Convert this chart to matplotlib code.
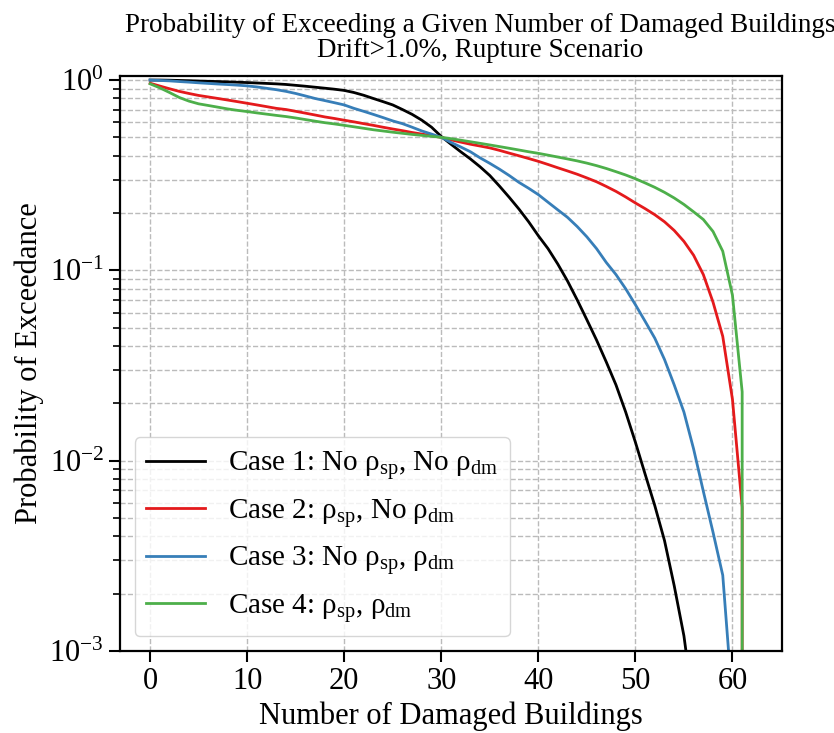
import numpy as np
import matplotlib
matplotlib.use("Agg")
import matplotlib.pyplot as plt

plt.rcParams['font.family'] = ['Liberation Serif', 'DejaVu Serif']
plt.rcParams['mathtext.fontset'] = 'custom'
plt.rcParams['mathtext.rm'] = 'Liberation Serif'
plt.rcParams['mathtext.it'] = 'Liberation Serif:italic'
plt.rcParams['mathtext.bf'] = 'Liberation Serif:bold'

# number of damaged buildings
n_buildings = list(range(63))

# probability of exceedance (0 = no longer possible)
case1 = [1.0, 1.0, 0.998, 0.995, 0.992, 0.988, 0.985, 0.982, 0.978, 0.974,
         0.97, 0.965, 0.96, 0.955, 0.948, 0.938, 0.928, 0.917, 0.906, 0.895,
         0.882, 0.86, 0.832, 0.80, 0.77, 0.74, 0.70, 0.66, 0.615, 0.565,
         0.505, 0.46, 0.42, 0.385, 0.35, 0.315, 0.277, 0.242, 0.21, 0.18,
         0.152, 0.13, 0.108, 0.088, 0.07, 0.055, 0.043, 0.033, 0.025, 0.018,
         0.0125, 0.0085, 0.0058, 0.0038, 0.0022, 0.0012, 0.0005, 0, 0, 0,
         0, 0, 0]
case2 = [0.962, 0.93, 0.90, 0.872, 0.85, 0.83, 0.815, 0.80, 0.785, 0.77,
         0.755, 0.74, 0.725, 0.71, 0.70, 0.685, 0.67, 0.655, 0.64, 0.628,
         0.615, 0.603, 0.59, 0.578, 0.565, 0.553, 0.542, 0.53, 0.52, 0.51,
         0.50, 0.485, 0.472, 0.46, 0.45, 0.44, 0.427, 0.413, 0.40, 0.387,
         0.374, 0.36, 0.346, 0.333, 0.32, 0.306, 0.292, 0.276, 0.26, 0.243,
         0.226, 0.211, 0.196, 0.18, 0.162, 0.142, 0.12, 0.095, 0.068, 0.045,
         0.021, 0.0057, 0]
case3 = [1.0, 0.995, 0.99, 0.982, 0.975, 0.967, 0.96, 0.953, 0.947, 0.94,
         0.932, 0.92, 0.905, 0.89, 0.872, 0.85, 0.825, 0.80, 0.78, 0.76,
         0.74, 0.71, 0.685, 0.66, 0.635, 0.61, 0.59, 0.565, 0.54, 0.52,
         0.50, 0.47, 0.445, 0.42, 0.39, 0.365, 0.34, 0.315, 0.29, 0.27,
         0.25, 0.228, 0.208, 0.19, 0.17, 0.15, 0.13, 0.11, 0.095, 0.08,
         0.066, 0.054, 0.044, 0.034, 0.025, 0.018, 0.0115, 0.0069, 0.0042, 0.0025,
         0.00054, 0, 0]
case4 = [0.955, 0.91, 0.86, 0.81, 0.775, 0.75, 0.735, 0.72, 0.705, 0.693,
         0.683, 0.672, 0.662, 0.652, 0.643, 0.632, 0.62, 0.608, 0.597, 0.588,
         0.578, 0.568, 0.558, 0.548, 0.54, 0.532, 0.525, 0.518, 0.512, 0.506,
         0.50, 0.492, 0.483, 0.474, 0.465, 0.456, 0.447, 0.438, 0.429, 0.42,
         0.412, 0.403, 0.394, 0.385, 0.376, 0.366, 0.355, 0.343, 0.33, 0.317,
         0.303, 0.288, 0.273, 0.257, 0.24, 0.222, 0.203, 0.185, 0.16, 0.126,
         0.074, 0.023, 0]

labels = [r'Case 1: No ρ$_{\mathrm{sp}}$, No ρ$_{\mathrm{dm}}$',
          r'Case 2: ρ$_{\mathrm{sp}}$, No ρ$_{\mathrm{dm}}$',
          r'Case 3: No ρ$_{\mathrm{sp}}$, ρ$_{\mathrm{dm}}$',
          r'Case 4: ρ$_{\mathrm{sp}}$, ρ$_{\mathrm{dm}}$']
colors = ['black', '#e41a1c', '#377eb8', '#4daf4a']

fig = plt.figure(figsize=(8.34, 7.33), dpi=100)
ax = fig.add_axes([0.1439, 0.1119, 0.7937, 0.7844])

for y, lab, c in zip([case1, case2, case3, case4], labels, colors):
    ax.plot(n_buildings, y, color=c, lw=2, label=lab)

ax.set_yscale('log')
ax.set_ylim(1e-3, 1.05)
ax.set_xticks([0, 10, 20, 30, 40, 50, 60])

ax.grid(True, which='major', ls='--', color='#bbbbbb', lw=1)
ax.grid(True, which='minor', axis='y', ls='--', color='#bbbbbb', lw=1)
ax.set_axisbelow(True)

ax.tick_params(labelsize=22, width=1.5, length=8)
ax.tick_params(which='minor', width=1.2, length=5)
for s in ax.spines.values():
    s.set_linewidth(1.6)

ax.set_xlabel('Number of Damaged Buildings', fontsize=22)
ax.set_ylabel('Probability of Exceedance', fontsize=22)
ax.set_title('Probability of Exceeding a Given Number of Damaged Buildings\n'
             'Drift>1.0%, Rupture Scenario', fontsize=19.5, x=0.544, pad=14,
             linespacing=1.0)
ax.legend(loc='lower left', fontsize=21, framealpha=0.8)

fig.savefig('out.png', dpi=100)
